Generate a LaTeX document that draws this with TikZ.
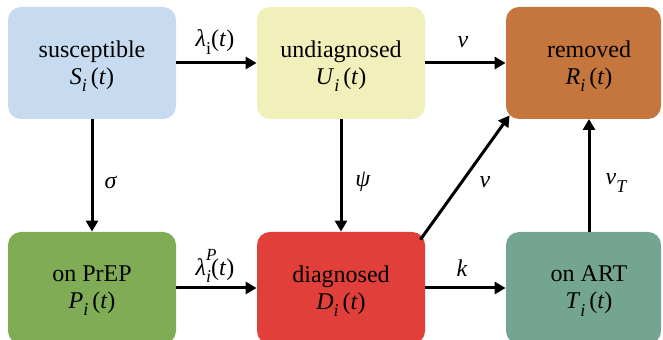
\documentclass[tikz,border=0pt]{standalone}
\usepackage{fontspec}
\setmainfont{Liberation Serif}
\usetikzlibrary{arrows.meta}
\definecolor{cS}{RGB}{198,218,240}
\definecolor{cU}{RGB}{242,240,186}
\definecolor{cR}{RGB}{196,118,60}
\definecolor{cP}{RGB}{128,172,86}
\definecolor{cD}{RGB}{225,63,57}
\definecolor{cT}{RGB}{115,165,145}
\newcommand{\vsub}[1]{\raisebox{-0.3em}{\fontsize{9}{9}\selectfont\itshape #1}}
\newcommand{\vsup}[1]{\raisebox{0.62em}{\fontsize{8.5}{9}\selectfont\itshape #1}}
\newcommand{\fn}[1]{\textit{#1}\vsub{i}\,(\textit{t})}
\begin{document}
\begin{tikzpicture}[x=0.5pt,y=-0.5pt,
  box/.style={rounded corners=6.5pt, minimum width=84pt, minimum height=56pt, inner sep=0pt, draw=none},
  nbox/.style={box, minimum width=77.5pt},
  txt/.style={align=center, font=\fontsize{12}{13.5}\selectfont, inner sep=0pt},
  lbl/.style={font=\fontsize{12}{14}\selectfont, inner sep=0pt},
  arr/.style={line width=1.5pt, -{Triangle[length=5.5pt,width=6pt]}}]
\useasboundingbox (0,0) rectangle (663,340);
\clip (0,0) rectangle (663,340);
% boxes
\node[box, fill=cS] (S) at (92,63) {};
\node[box, fill=cU] (U) at (341,63) {};
\node[nbox, fill=cR] (R) at (583.5,63) {};
\node[box, fill=cP] (P) at (92,288) {};
\node[box, fill=cD] (D) at (341,288) {};
\node[nbox, fill=cT] (T) at (583.5,288) {};
% texts
\node[txt] (tS) at (92,66) {susceptible\\ \fn{S}};
\node[txt] (tU) at (341,66) {undiagnosed\\ \fn{U}};
\node[txt] (tR) at (589,66) {removed\\ \fn{R}};
\node[txt] (tP) at (92,291) {on PrEP\\ \fn{P}};
\node[txt] (tD) at (341,291) {diagnosed\\ \fn{D}};
\node[txt] (tT) at (589,291) {on ART\\ \fn{T}};
% arrows
\draw[arr] (S.east) -- (U.west);
\draw[arr] (U.east) -- (R.west);
\draw[arr] (P.east) -- (D.west);
\draw[arr] (D.east) -- (T.west);
\draw[arr] (S.south) -- (P.north);
\draw[arr] (U.south) -- (D.north);
\coordinate (tTop) at (589,232);
\coordinate (rBot) at (589,119);
\draw[arr] (tTop) -- (rBot);
\draw[arr] ([xshift=-2.5pt,yshift=-4pt]D.north east) -- ([xshift=2pt,yshift=2pt]R.south west);
% labels
\node[lbl] (l1) at (215,42) {\textit{λ}\vsub{\upshape i}(\textit{t})};
\node[lbl] (l2) at (463,42) {\textit{ν}};
\node[lbl] (l3) at (111,182) {\textit{σ}};
\node[lbl] (l4) at (363,182) {\textit{ψ}};
\node[lbl] (l5) at (485,182) {\textit{ν}};
\node[lbl] (l6) at (616,183) {\textit{ν}\vsub{T}};
\node[lbl] (l7) at (215,266) {\textit{λ}\rlap{\vsup{P}}\vsub{i}(\textit{t})};
\node[lbl] (l8) at (462,268) {\textit{k}};
\end{tikzpicture}
\end{document}
